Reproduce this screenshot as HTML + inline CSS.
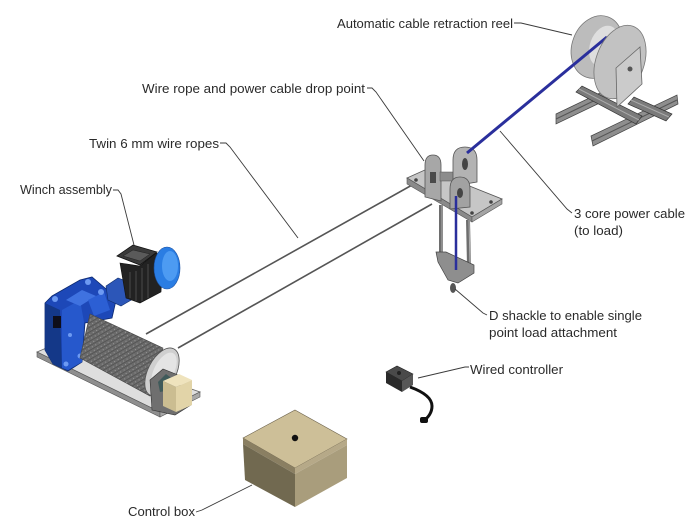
<!DOCTYPE html>
<html>
<head>
<meta charset="utf-8">
<style>
  html, body { margin: 0; padding: 0; background: #ffffff; }
  svg { display: block; }
  text { font-family: "Liberation Sans", "DejaVu Sans", sans-serif; font-size: 13px; fill: #2a2a2a; }
</style>
</head>
<body>
<svg width="696" height="519" viewBox="0 0 696 519" xmlns="http://www.w3.org/2000/svg">
  <defs>
    <pattern id="drumPat" width="4" height="4" patternUnits="userSpaceOnUse" patternTransform="rotate(60)">
      <rect width="4" height="4" fill="#6a6a6a"/>
      <line x1="0" y1="0" x2="0" y2="4" stroke="#4a4a4a" stroke-width="1.2"/>
      <rect x="2" y="1" width="1" height="1" fill="#9a9a9a"/>
    </pattern>
  </defs>
  <rect width="696" height="519" fill="#ffffff"/>

  <!-- ================= WINCH ================= -->
  <polygon points="37,352 58,343 200,392 160,412" fill="#dedede" stroke="#666" stroke-width="0.8"/>
  <polygon points="37,352 160,412 160,417 37,357" fill="#8f8f8f" stroke="#555" stroke-width="0.6"/>
  <polygon points="160,412 200,392 200,397 160,417" fill="#a8a8a8" stroke="#555" stroke-width="0.6"/>

  <!-- gearbox -->
  <polygon points="45,303 52,296 80,280 92,277 105,288 117,296 112,318 85,323 82,362 68,371 53,364 45,350" fill="#1d48b8" stroke="#0d2a70" stroke-width="0.8"/>
  <polygon points="45,303 60,310 62,368 53,364 45,350" fill="#143888"/>
  <polygon points="62,310 80,300 84,322 82,362 68,370 62,368" fill="#2658cc"/>
  <polygon points="66,300 82,290 96,296 80,306" fill="#3f72e0"/>
  <polygon points="88,300 104,292 110,310 94,316" fill="#2c5fd4"/>
  <rect x="53" y="316" width="8" height="12" fill="#0e0e1a"/>
  <circle cx="55" cy="299" r="3" fill="#6d9af2"/>
  <circle cx="88" cy="282" r="3" fill="#6d9af2"/>
  <circle cx="101" cy="292" r="3" fill="#6d9af2"/>
  <circle cx="66" cy="364" r="2.5" fill="#6d9af2"/>
  <circle cx="80" cy="356" r="2.5" fill="#6d9af2"/>
  <circle cx="70" cy="335" r="2" fill="#6d9af2"/>
  <!-- coupling -->
  <polygon points="106,286 118,278 131,283 133,299 121,306 108,300" fill="#2c56b8" stroke="#12306e" stroke-width="0.6"/>
  <!-- motor body -->
  <polygon points="120,263 140,266 156,253 163,256 161,292 140,303 126,298" fill="#222" stroke="#111" stroke-width="0.6"/>
  <line x1="130" y1="272" x2="130" y2="298" stroke="#555" stroke-width="0.8"/>
  <line x1="136" y1="271" x2="136" y2="301" stroke="#555" stroke-width="0.8"/>
  <line x1="142" y1="268" x2="142" y2="301" stroke="#555" stroke-width="0.8"/>
  <line x1="148" y1="264" x2="148" y2="298" stroke="#555" stroke-width="0.8"/>
  <polygon points="117,256 133,245 157,252 140,265" fill="#3a3a3a" stroke="#111" stroke-width="0.8"/>
  <polygon points="123,256 133,250 150,254 140,261" fill="#5a5a5a" stroke="#222" stroke-width="0.5"/>
  <ellipse cx="167" cy="268" rx="13" ry="21" fill="#2a7de3" stroke="#1a4fa0" stroke-width="0.6"/>
  <ellipse cx="170" cy="266" rx="8" ry="15" fill="#4d9bf2"/>

  <!-- drum -->
  <polygon points="90,314 163,348 150,396 80,358" fill="url(#drumPat)" stroke="#444" stroke-width="0.6"/>
  <ellipse cx="162" cy="372" rx="14" ry="26" transform="rotate(27 162 372)" fill="#cfcfcf" stroke="#555" stroke-width="0.8"/>
  <ellipse cx="164" cy="371" rx="10" ry="20" transform="rotate(27 164 371)" fill="#e4e4e4"/>
  <!-- end bracket -->
  <polygon points="150,380 163,369 178,375 181,396 191,405 175,415 152,410" fill="#6f6f6f" stroke="#333" stroke-width="0.6"/>
  <polygon points="158,382 166,374 174,380 170,390 160,392" fill="#3f5a5a"/>
  <polygon points="163,381 179,374 192,380 176,387" fill="#efe3bd"/>
  <polygon points="163,381 176,387 176,412 163,406" fill="#cbbd91"/>
  <polygon points="176,387 192,380 192,405 176,412" fill="#e2d4a8"/>

  <!-- ================= WIRE ROPES ================= -->
  <line x1="146" y1="334" x2="421" y2="180" stroke="#555" stroke-width="1.6"/>
  <line x1="178" y1="348" x2="432" y2="204" stroke="#555" stroke-width="1.6"/>

  <!-- ================= DROP POINT ================= -->
  <polygon points="407,178 427,169 502,199 472,217" fill="#c6c6c6" stroke="#555" stroke-width="0.8"/>
  <polygon points="407,178 472,217 472,222 407,184" fill="#8a8a8a" stroke="#555" stroke-width="0.6"/>
  <polygon points="472,217 502,199 502,204 472,222" fill="#a4a4a4" stroke="#555" stroke-width="0.6"/>
  <circle cx="491" cy="202" r="1.8" fill="#444"/>
  <circle cx="472" cy="213" r="1.8" fill="#444"/>
  <circle cx="416" cy="180" r="1.8" fill="#444"/>
  <path d="M425,197 L425,165 Q425,155 433,155 Q441,155 441,165 L441,201 Z" fill="#a7a7a7" stroke="#555" stroke-width="0.8"/>
  <rect x="430" y="172" width="6" height="11" fill="#4a4a4a"/>
  <rect x="440" y="172" width="14" height="9" fill="#8c8c8c" stroke="#555" stroke-width="0.5"/>
  <path d="M453,186 L453,160 Q453,147 465,147 Q477,147 477,160 L477,182 Z" fill="#b3b3b3" stroke="#555" stroke-width="0.8"/>
  <ellipse cx="465" cy="164" rx="3" ry="6" fill="#444"/>
  <path d="M450,209 L450,189 Q450,177 460,177 Q470,177 470,189 L470,207 Z" fill="#a2a2a2" stroke="#555" stroke-width="0.8"/>
  <ellipse cx="460" cy="193" rx="3" ry="5" fill="#444"/>
  <line x1="441" y1="205" x2="441" y2="254" stroke="#6e6e6e" stroke-width="4"/>
  <line x1="442" y1="205" x2="442" y2="254" stroke="#b0b0b0" stroke-width="1"/>
  <line x1="468" y1="220" x2="469" y2="266" stroke="#6e6e6e" stroke-width="4"/>
  <line x1="469" y1="220" x2="470" y2="266" stroke="#b0b0b0" stroke-width="1"/>
  <polygon points="436,252 446,252 474,265 474,273 458,283 448,280 438,262" fill="#8e8e8e" stroke="#444" stroke-width="0.7"/>
  <ellipse cx="453" cy="288" rx="3" ry="5" fill="#555"/>
  <line x1="456" y1="196" x2="456" y2="270" stroke="#2a2f9c" stroke-width="2.5"/>

  <!-- ================= REEL ================= -->
  <polygon points="556,114 606,90 606,100 556,124" fill="#8e8e8e" stroke="#444" stroke-width="0.7"/>
  <line x1="556" y1="119" x2="606" y2="95" stroke="#555" stroke-width="1"/>
  <polygon points="591,136 677,95 678,104 593,146" fill="#8e8e8e" stroke="#444" stroke-width="0.7"/>
  <line x1="592" y1="141" x2="677" y2="100" stroke="#555" stroke-width="1"/>
  <polygon points="576,92 582,86 642,116 636,124" fill="#7a7a7a" stroke="#333" stroke-width="0.7"/>
  <line x1="579" y1="89" x2="639" y2="120" stroke="#aaa" stroke-width="1"/>
  <polygon points="628,104 634,97 672,114 666,121" fill="#7a7a7a" stroke="#333" stroke-width="0.7"/>
  <line x1="631" y1="100" x2="669" y2="117" stroke="#aaa" stroke-width="1"/>
  <ellipse cx="597" cy="47" rx="25" ry="32" transform="rotate(20 597 47)" fill="#bcbcbc" stroke="#777" stroke-width="0.8"/>
  <ellipse cx="604" cy="46" rx="14" ry="21" transform="rotate(20 604 46)" fill="#dedede"/>
  <line x1="467" y1="153" x2="607" y2="37" stroke="#2a2f9c" stroke-width="3"/>
  <ellipse cx="620" cy="62" rx="24" ry="38" transform="rotate(20 620 62)" fill="#c2c2c2" stroke="#777" stroke-width="0.8"/>
  <polygon points="616,68 640,47 642,84 617,107" fill="#cbcbcb" stroke="#666" stroke-width="0.8"/>
  <circle cx="630" cy="69" r="2.5" fill="#555"/>

  <!-- ================= CONTROLLER ================= -->
  <polygon points="386,372 397,366 413,374 402,381" fill="#4a4a4a" stroke="#222" stroke-width="0.6"/>
  <polygon points="386,372 402,381 402,392 386,383" fill="#2a2a2a"/>
  <polygon points="402,381 413,374 413,385 402,392" fill="#575757"/>
  <circle cx="399" cy="373" r="2" fill="#222"/>
  <path d="M410,387 C421,391 432,397 432,406 C432,413 428,417 425,420" fill="none" stroke="#111" stroke-width="3"/>
  <rect x="420" y="417" width="8" height="6" rx="2" fill="#111"/>

  <!-- ================= CONTROL BOX ================= -->
  <polygon points="295,410 347,439 295,468 243,438" fill="#cdbf98" stroke="#6a604a" stroke-width="0.6"/>
  <polygon points="243,438 295,468 295,474 243,444" fill="#8a7f62"/>
  <polygon points="295,468 347,439 347,445 295,474" fill="#b6a988"/>
  <polygon points="243,444 295,474 295,507 245,480" fill="#716950"/>
  <polygon points="295,474 347,445 347,478 295,507" fill="#a99d7c"/>
  <circle cx="295" cy="438" r="3.2" fill="#111"/>

  <!-- ================= LEADER LINES ================= -->
  <g fill="none" stroke="#3a3a3a" stroke-width="0.9">
    <polyline points="514,23 521,23 572,35"/>
    <polyline points="367,88 372,88 376,92 424,161"/>
    <polyline points="220,143 226,143 230,147 298,238"/>
    <polyline points="113,190 118,190 121,194 134,245"/>
    <polyline points="572,213 567,209 500,131"/>
    <polyline points="487,315 483,313 455,289"/>
    <polyline points="469,367 465,367 418,378"/>
    <polyline points="196,512 202,510 252,485"/>
  </g>

  <!-- ================= LABELS ================= -->
  <text x="337" y="28" textLength="176" lengthAdjust="spacingAndGlyphs">Automatic cable retraction reel</text>
  <text x="142" y="93" textLength="223" lengthAdjust="spacingAndGlyphs">Wire rope and power cable drop point</text>
  <text x="89" y="148" textLength="130" lengthAdjust="spacingAndGlyphs">Twin 6 mm wire ropes</text>
  <text x="20" y="194" textLength="92" lengthAdjust="spacingAndGlyphs">Winch assembly</text>
  <text x="574" y="218" textLength="111" lengthAdjust="spacingAndGlyphs">3 core power cable</text>
  <text x="574" y="235" textLength="49" lengthAdjust="spacingAndGlyphs">(to load)</text>
  <text x="489" y="320" textLength="153" lengthAdjust="spacingAndGlyphs">D shackle to enable single</text>
  <text x="489" y="337" textLength="128" lengthAdjust="spacingAndGlyphs">point load attachment</text>
  <text x="470" y="374" textLength="93" lengthAdjust="spacingAndGlyphs">Wired controller</text>
  <text x="128" y="516" textLength="67" lengthAdjust="spacingAndGlyphs">Control box</text>
</svg>
</body>
</html>
